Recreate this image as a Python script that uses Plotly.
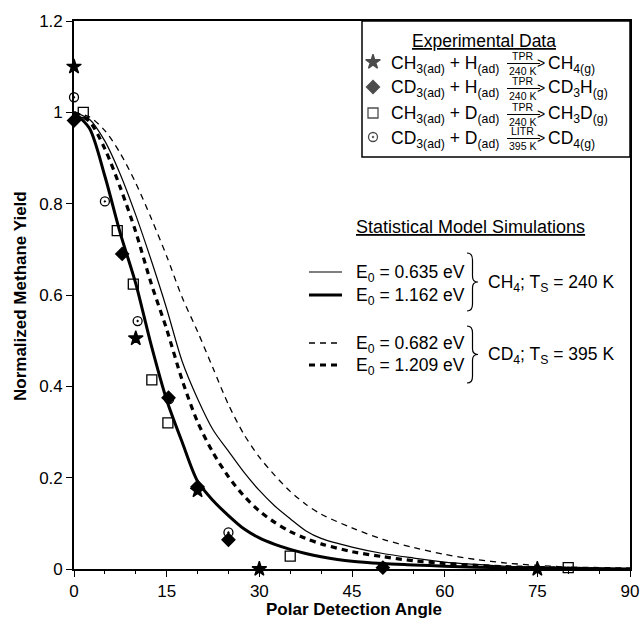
import plotly.graph_objects as go

# ---------------- data ----------------
theta = [0, 2.5, 5, 7.5, 10, 12.5, 15, 17.5, 20, 22.5, 25, 27.5, 30, 32.5, 35,
         37.5, 40, 45, 50, 55, 60, 65, 70, 75, 80, 85, 90]
# CH4, Ts = 240 K
sim_ch4_0635 = [1.000, 0.985, 0.937, 0.864, 0.775, 0.676, 0.570, 0.455, 0.373, 0.305,
                0.258, 0.212, 0.172, 0.138, 0.110, 0.084, 0.067, 0.048, 0.034, 0.024,
                0.015, 0.010, 0.006, 0.004, 0.002, 0.001, 0.000]
sim_ch4_1162 = [1.000, 0.965, 0.860, 0.735, 0.625, 0.490, 0.370, 0.278, 0.192, 0.150,
                0.117, 0.088, 0.068, 0.054, 0.043, 0.034, 0.027, 0.017, 0.012, 0.009,
                0.006, 0.004, 0.003, 0.002, 0.001, 0.0005, 0.000]
# CD4, Ts = 395 K
sim_cd4_0682 = [1.000, 0.990, 0.960, 0.910, 0.845, 0.768, 0.685, 0.595, 0.520, 0.440,
                0.360, 0.295, 0.245, 0.205, 0.170, 0.142, 0.120, 0.090, 0.065, 0.047,
                0.032, 0.021, 0.013, 0.008, 0.004, 0.002, 0.000]
sim_cd4_1209 = [1.000, 0.980, 0.920, 0.835, 0.738, 0.625, 0.525, 0.414, 0.322, 0.255,
                0.202, 0.160, 0.127, 0.102, 0.082, 0.067, 0.055, 0.038, 0.027, 0.018,
                0.012, 0.008, 0.005, 0.003, 0.002, 0.001, 0.000]

# experimental data
star_x = [0, 10, 20, 30, 75]
star_y = [1.10, 0.505, 0.172, 0.0, 0.0]
diam_x = [0, 7.8, 15.3, 20, 25, 50]
diam_y = [0.982, 0.690, 0.375, 0.180, 0.064, 0.003]
sq_x = [1.5, 7, 9.6, 12.6, 15.2, 35, 80]
sq_y = [1.000, 0.741, 0.624, 0.414, 0.320, 0.028, 0.003]
circ_x = [0, 5, 10.3, 15.4, 20, 25, 50]
circ_y = [1.033, 0.805, 0.543, 0.372, 0.178, 0.080, 0.005]

x_ticks = [0, 15, 30, 45, 60, 75, 90]
y_ticks = [0, 0.2, 0.4, 0.6, 0.8, 1.0, 1.2]

exp_symbols = ["star", "diamond", "square-open", "circle-open-dot"]
exp_reactants = ["CH<sub>3(ad)</sub> + H<sub>(ad)</sub>",
                 "CD<sub>3(ad)</sub> + H<sub>(ad)</sub>",
                 "CH<sub>3(ad)</sub> + D<sub>(ad)</sub>",
                 "CD<sub>3(ad)</sub> + D<sub>(ad)</sub>"]
exp_methods = ["TPR", "TPR", "TPR", "LITR"]
exp_temps = ["240 K", "240 K", "240 K", "395 K"]
exp_products = ["CH<sub>4(g)</sub>", "CD<sub>3</sub>H<sub>(g)</sub>",
                "CH<sub>3</sub>D<sub>(g)</sub>", "CD<sub>4(g)</sub>"]
sim_labels = ["E<sub>0</sub> = 0.635 eV", "E<sub>0</sub> = 1.162 eV",
              "E<sub>0</sub> = 0.682 eV", "E<sub>0</sub> = 1.209 eV"]
group_labels = ["CH<sub>4</sub>; T<sub>S</sub> = 240 K", "CD<sub>4</sub>; T<sub>S</sub> = 395 K"]

# ---------------- figure ----------------
W, H = 641, 619
SL, SR, ST, SB = 74, 630, 21, 569          # plot area in pixels
L, T, R, B = SL, ST, W - SR, H - SB
FONT = "Liberation Sans, Arial, Helvetica, sans-serif"


def PX(px):
    return (px - SL) / (SR - SL)


def PY(py):
    return (SB - py) / (SB - ST)


fig = go.Figure()

line_styles = [
    (sim_ch4_0635, 1.2, "solid"),
    (sim_ch4_1162, 3.0, "solid"),
    (sim_cd4_0682, 1.3, "6px,5px"),
    (sim_cd4_1209, 3.2, "6px,5px"),
]
for ys, w, d in line_styles:
    fig.add_trace(go.Scatter(x=theta, y=ys, mode="lines",
                             line=dict(color="black", width=w, dash=d, shape="spline", smoothing=0.8),
                             showlegend=False, hoverinfo="skip"))

marker_sets = [
    (star_x, star_y, "star", 11),
    (diam_x, diam_y, "diamond", 10),
    (sq_x, sq_y, "square-open", 10),
    (circ_x, circ_y, "circle-open-dot", 9),
]
for xs, ys, sym, sz in marker_sets:
    fig.add_trace(go.Scatter(x=xs, y=ys, mode="markers", cliponaxis=False,
                             marker=dict(symbol=sym, size=sz, color="black",
                                         line=dict(color="black", width=1.3)),
                             showlegend=False))

# legend markers on an overlay axis in paper-like units
row_y = [62, 87, 113, 137]
fig.add_trace(go.Scatter(x=[PX(373)] * 4, y=[PY(v) for v in row_y], mode="markers",
                         xaxis="x2", yaxis="y2", cliponaxis=False, showlegend=False,
                         marker=dict(symbol=exp_symbols, size=[11, 10, 10, 9], color="black",
                                     line=dict(color="black", width=1.3))))

ann = []
shapes = []

# legend box
shapes.append(dict(type="rect", xref="paper", yref="paper", x0=PX(362), x1=PX(630),
                   y0=PY(157), y1=PY(21), line=dict(color="black", width=1.5)))
ann.append(dict(text="<u>Experimental Data</u>", x=PX(484), y=PY(41), xref="paper", yref="paper",
                showarrow=False, xanchor="center", yanchor="middle", font=dict(size=17.5)))
for i, ry in enumerate(row_y):
    ann.append(dict(text=exp_reactants[i], x=PX(389), y=PY(ry + 2), xref="paper", yref="paper",
                    showarrow=False, xanchor="left", yanchor="middle", font=dict(size=17.5)))
    ann.append(dict(text=exp_methods[i], x=PX(522), y=PY(ry - 6), xref="paper", yref="paper",
                    showarrow=False, xanchor="center", yanchor="middle", font=dict(size=10.5)))
    ann.append(dict(text=exp_temps[i], x=PX(522), y=PY(ry + 8.5), xref="paper", yref="paper",
                    showarrow=False, xanchor="center", yanchor="middle", font=dict(size=10.5)))
    shapes.append(dict(type="line", xref="paper", yref="paper", x0=PX(507), x1=PX(540),
                       y0=PY(ry + 1.5), y1=PY(ry + 1.5), line=dict(color="black", width=1)))
    ann.append(dict(text=">", x=PX(535), y=PY(ry + 1), xref="paper", yref="paper",
                    showarrow=False, xanchor="left", yanchor="middle", font=dict(size=14)))
    ann.append(dict(text=exp_products[i], x=PX(546), y=PY(ry + 2), xref="paper", yref="paper",
                    showarrow=False, xanchor="left", yanchor="middle", font=dict(size=17.5)))

# simulation key
ann.append(dict(text="<u>Statistical Model Simulations</u>", x=PX(470), y=PY(227), xref="paper",
                yref="paper", showarrow=False, xanchor="center", yanchor="middle", font=dict(size=18)))
sim_rows = [272, 295, 343, 365]
for (ys, w, d), ry, lab in zip(line_styles, sim_rows, sim_labels):
    shapes.append(dict(type="line", xref="paper", yref="paper", x0=PX(309), x1=PX(342),
                       y0=PY(ry), y1=PY(ry), line=dict(color="black", width=w, dash=d)))
    ann.append(dict(text=lab, x=PX(354), y=PY(ry + 1), xref="paper", yref="paper",
                    showarrow=False, xanchor="left", yanchor="middle", font=dict(size=17.5)))


def brace(x0, x1, top, bot):
    xm = (x0 + x1) / 2
    mid = (top + bot) / 2
    h = bot - top
    pts = [
        ("M", [(x0, top)]),
        ("Q", [(xm, top), (xm, top + h * 0.12)]),
        ("L", [(xm, mid - h * 0.1)]),
        ("Q", [(xm, mid), (x1, mid)]),
        ("Q", [(xm, mid), (xm, mid + h * 0.1)]),
        ("L", [(xm, bot - h * 0.12)]),
        ("Q", [(xm, bot), (x0, bot)]),
    ]
    s = ""
    for cmd, ps in pts:
        s += cmd + " ".join(f"{PX(a):.5f},{PY(b):.5f}" for a, b in ps) + " "
    return s.strip()


for (top, bot), gy, gl in zip([(253, 311), (326, 383)], [282, 354], group_labels):
    shapes.append(dict(type="path", xref="paper", yref="paper", path=brace(467, 478, top, bot),
                       line=dict(color="black", width=1.2)))
    ann.append(dict(text=gl, x=PX(486), y=PY(gy + 1), xref="paper", yref="paper",
                    showarrow=False, xanchor="left", yanchor="middle", font=dict(size=17.5)))

# axis titles
ann.append(dict(text="<b>Polar Detection Angle</b>", x=PX(354), y=PY(609), xref="paper", yref="paper",
                showarrow=False, xanchor="center", yanchor="middle", font=dict(size=17)))
ann.append(dict(text="<b>Normalized Methane Yield</b>", x=PX(20), y=PY(296), xref="paper", yref="paper",
                showarrow=False, xanchor="center", yanchor="middle", textangle=-90, font=dict(size=17)))

fig.update_layout(
    width=W, height=H,
    margin=dict(l=L, r=R, t=T, b=B, autoexpand=False),
    paper_bgcolor="white", plot_bgcolor="white",
    font=dict(family=FONT, color="black", size=17),
    xaxis=dict(range=[0, 90], tickvals=x_ticks, ticks="outside", ticklen=6, tickwidth=1.3,
               tickcolor="black", showline=True, linecolor="black", linewidth=1.6, mirror=True,
               showgrid=False, zeroline=False, tickfont=dict(size=17), automargin=False,
               minor=dict(dtick=5, ticks="outside", ticklen=3, tickcolor="black", tickwidth=1)),
    yaxis=dict(range=[0, 1.2], tickvals=y_ticks, ticks="outside", ticklen=6, tickwidth=1.3,
               tickcolor="black", showline=True, linecolor="black", linewidth=1.6, mirror=True,
               showgrid=False, zeroline=False, tickfont=dict(size=17), automargin=False),
    xaxis2=dict(overlaying="x", range=[0, 1], visible=False),
    yaxis2=dict(overlaying="y", range=[0, 1], visible=False),
    annotations=ann,
    shapes=shapes,
    showlegend=False,
)

# remove the default page margin so the figure sits at the window's top-left corner
page_fix = "document.body.style.margin='0';document.body.style.overflow='hidden';"
fig.write_html("out.html", post_script=page_fix, config={"displayModeBar": False})
